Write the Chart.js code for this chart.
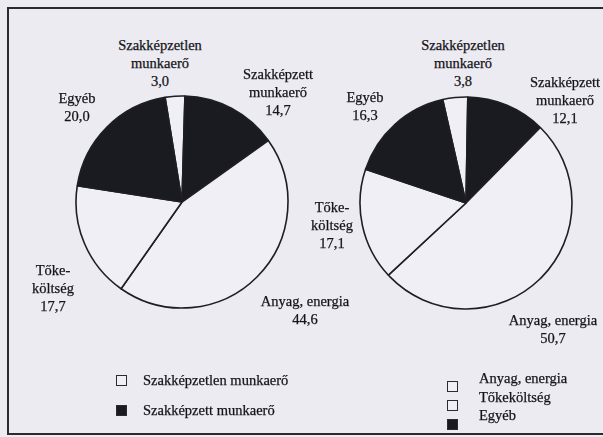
<!DOCTYPE html>
<html>
<head>
<meta charset="utf-8">
<script src="https://cdn.jsdelivr.net/npm/chart.js@4"></script>
<style>
  html, body { margin: 0; padding: 0; }
  body {
    width: 603px; height: 437px; overflow: hidden; position: relative;
    background: #ecebf2;
    font-family: 'Liberation Serif', 'Times New Roman', serif;
    font-size: 14.5px; color: #141419;
  }
  #frame {
    position: absolute; left: 7px; top: 7px; width: 640px; height: 424px;
    border-top: 2px solid #2a2a30; border-left: 2px solid #2a2a30; border-bottom: 2px solid #2a2a30;
  }
  canvas { position: absolute; }
  .lbl { position: absolute; text-align: center; white-space: pre; line-height: 18px; transform: translateX(-50%); -webkit-text-stroke: 0.25px #141419; }
  .leg { position: absolute; white-space: nowrap; line-height: 18px; -webkit-text-stroke: 0.25px #141419; }
  .sq { position: absolute; width: 9px; height: 9px; border: 1px solid #2a2a30; }
</style>
</head>
<body>
<div id="frame"></div>
<canvas id="pie1" width="220" height="220"></canvas>
<canvas id="pie2" width="220" height="220"></canvas>
<div id="labels"></div>

<script>
// categories (order clockwise from the top of each pie)
const categories = ['Szakképzetlen munkaerő', 'Szakképzett munkaerő', 'Anyag, energia', 'Tőkeköltség', 'Egyéb'];
// slice texts as printed next to the pies
const sliceNames = ['Szakképzetlen\nmunkaerő', 'Szakképzett\nmunkaerő', 'Anyag, energia', 'Tőke-\nköltség', 'Egyéb'];
const values1 = [3.0, 14.7, 44.6, 17.7, 20.0];
const values2 = [3.8, 12.1, 50.7, 17.1, 16.3];
// fill: white or black per category
const sliceColors = ['#f0eff5', '#1a1a21', '#f0eff5', '#f0eff5', '#1a1a21'];

// legends under each pie
const legend1 = [0, 1];
const legend2 = [2, 3, 4];

// layout
const pies = [
  { id: 'pie1', cx: 182, cy: 202, r: 106, rotation: -9.2, values: values1,
    // label anchor (center x, top y) per category
    lbl: [[160, 36], [278, 65], [305, 292], [53, 261], [77, 89]] },
  { id: 'pie2', cx: 466, cy: 203, r: 106, rotation: -12.7, values: values2,
    lbl: [[463, 36], [565, 73], [553, 311], [332, 198], [365, 88]] }
];

function fmt(v) {
  return v.toFixed(1).replace('.', ',');
}

const labelsDiv = document.getElementById('labels');

pies.forEach(function (p) {
  const cv = document.getElementById(p.id);
  cv.style.left = (p.cx - 110) + 'px';
  cv.style.top = (p.cy - 110) + 'px';

  new Chart(cv, {
    type: 'pie',
    data: {
      labels: categories,
      datasets: [{
        data: p.values,
        backgroundColor: sliceColors,
        borderColor: '#1e1e24',
        borderWidth: 1.6,
      }],
    },
    options: {
      responsive: false,
      animation: false,
      rotation: p.rotation,
      radius: p.r,
      layout: { padding: 0 },
      plugins: {
        legend: { display: false },
        tooltip: { enabled: false },
      },
    },
  });

  // slice labels
  for (let i = 0; i < categories.length; i++) {
    const d = document.createElement('div');
    d.className = 'lbl';
    d.textContent = sliceNames[i] + '\n' + fmt(p.values[i]);
    d.style.left = p.lbl[i][0] + 'px';
    d.style.top = p.lbl[i][1] + 'px';
    labelsDiv.appendChild(d);
  }
});

// legends
function addLegend(items, sqX, sqY, txtX, txtY, step) {
  items.forEach(function (idx, k) {
    const s = document.createElement('div');
    s.className = 'sq';
    s.style.left = sqX + 'px';
    s.style.top = (sqY[k]) + 'px';
    s.style.background = sliceColors[idx];
    labelsDiv.appendChild(s);
    const t = document.createElement('div');
    t.className = 'leg';
    t.textContent = categories[idx];
    t.style.left = txtX + 'px';
    t.style.top = (txtY + k * step) + 'px';
    labelsDiv.appendChild(t);
  });
}
addLegend(legend1, 116, [375, 405], 143, 371, 30);
addLegend(legend2, 447, [381, 400, 419], 479, 369, 18.5);
</script>
</body>
</html>
